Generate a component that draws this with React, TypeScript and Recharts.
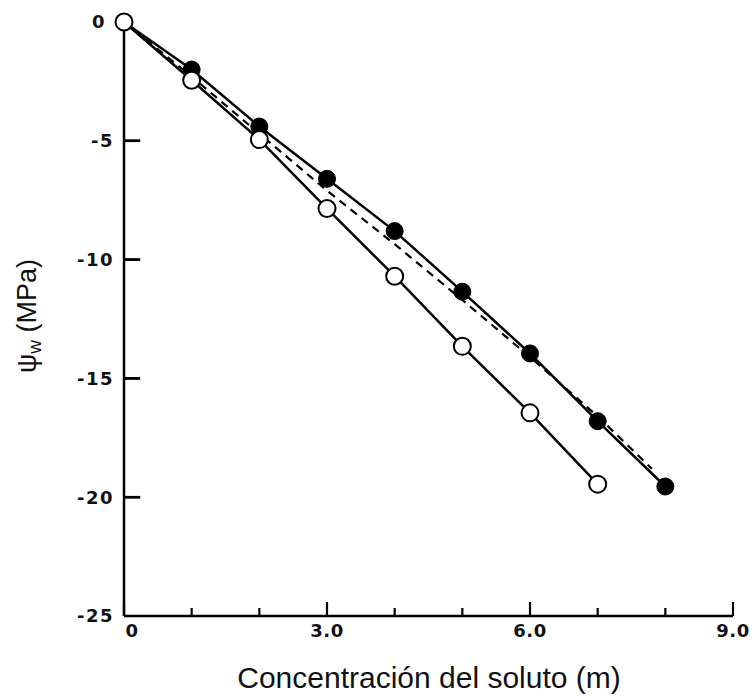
import { LineChart, Line, XAxis, YAxis, ReferenceLine } from "recharts";

// concentración (m) and ψw (MPa)
const concFilled = [0, 1, 2, 3, 4, 5, 6, 7, 8];
const psiFilled = [0, -2.0, -4.4, -6.6, -8.8, -11.35, -13.95, -16.8, -19.55];

const concOpen = [0, 1, 2, 3, 4, 5, 6, 7];
const psiOpen = [0, -2.45, -4.95, -7.85, -10.7, -13.65, -16.45, -19.45];

const concDashed = [0, 1, 2, 3, 4, 5, 6, 7, 7.8];
const psiDashed = [0, -2.3, -4.7, -7.1, -9.35, -11.7, -14.1, -16.6, -18.8];

const xTicks = [0, 1, 2, 3, 4, 5, 6, 7, 8, 9];
const xTickLabels: Record<number, string> = { 0: "0", 3: "3.0", 6: "6.0", 9: "9.0" };
const yTicks = [0, -5, -10, -15, -20, -25];
const yInnerTicks = [-5, -10, -15, -20];

const filledData = concFilled.map((x, i) => ({ x, y: psiFilled[i] }));
const openData = concOpen.map((x, i) => ({ x, y: psiOpen[i] }));
const dashedData = concDashed.map((x, i) => ({ x, y: psiDashed[i] }));

const FONT = "'Liberation Sans', Arial, sans-serif";
const TICK_FONT = "'DejaVu Sans', sans-serif";
const TICK_MARGIN = 10;

function XTick(props: any) {
  const { x, y, payload } = props;
  const v = payload.value as number;
  const label = xTickLabels[v];
  const axisY = y - TICK_MARGIN;
  const len = label ? 14 : 8;
  return (
    <g>
      <line x1={x} x2={x} y1={axisY} y2={axisY - len} stroke="#000" strokeWidth={2.2} />
      {label && (
        <text
          x={v === 0 ? x + 8 : x}
          y={y - 4}
          dy="0.85em"
          textAnchor="middle"
          fontFamily={TICK_FONT}
          fontWeight="bold"
          fontSize={18}
          letterSpacing={0.5}
          fill="#111"
        >
          {label}
        </text>
      )}
    </g>
  );
}

function YTick(props: any) {
  const { x, y, payload } = props;
  const v = payload.value as number;
  const axisX = x + TICK_MARGIN;
  const inner = v !== 0 && v !== -25;
  return (
    <g>
      {inner && (
        <line x1={axisX} x2={axisX + 16} y1={y} y2={y} stroke="#000" strokeWidth={2.5} />
      )}
      <text
        x={v === 0 ? x - 8 : x}
        y={y}
        dy="0.36em"
        textAnchor="end"
        fontFamily={TICK_FONT}
        fontWeight="bold"
        fontSize={18}
        letterSpacing={1.5}
        fill="#111"
      >
        {v}
      </text>
    </g>
  );
}

function OpenDot(props: any) {
  const { cx, cy } = props;
  return <circle cx={cx} cy={cy} r={8.5} fill="#fff" stroke="#000" strokeWidth={2} />;
}

function FilledDot(props: any) {
  const { cx, cy, index } = props;
  if (index === 0) return <g />;
  return <circle cx={cx} cy={cy} r={8.5} fill="#000" stroke="#000" strokeWidth={1} />;
}

// both axis titles, drawn from the x-axis label slot
function AxisTitles() {
  return (
    <g>
      <text
        x={429}
        y={688}
        textAnchor="middle"
        fontFamily={FONT}
        fontSize={30}
        fill="#111"
      >
        Concentración del soluto (m)
      </text>
      <text
        transform="translate(36, 316) rotate(-90)"
        textAnchor="middle"
        fontFamily={FONT}
        fontSize={27}
        fill="#111"
      >
        ψ
        <tspan fontSize={19} dy={5}>w</tspan>
        <tspan dy={-5}> (MPa)</tspan>
      </text>
    </g>
  );
}

export default function App() {
  return (
    <div style={{ position: "absolute", left: 0, top: 0, width: 754, height: 699, background: "#fff" }}>
      <LineChart
        width={754}
        height={699}
        margin={{ top: 22, right: 21, left: 0, bottom: 0 }}
      >
        <XAxis
          type="number"
          dataKey="x"
          domain={[0, 9]}
          ticks={xTicks}
          interval={0}
          height={83}
          tickSize={0}
          tickMargin={TICK_MARGIN}
          tick={XTick}
          axisLine={{ stroke: "#000", strokeWidth: 2.5 }}
          tickLine={false}
          label={<AxisTitles />}
        />
        <YAxis
          type="number"
          dataKey="y"
          domain={[-25, 0]}
          ticks={yTicks}
          interval={0}
          width={124}
          tickSize={0}
          tickMargin={TICK_MARGIN}
          tick={YTick}
          axisLine={{ stroke: "#000", strokeWidth: 2.5 }}
          tickLine={false}
        />
        {yInnerTicks.map((v) => (
          <ReferenceLine
            key={v}
            segment={[{ x: 0, y: v }, { x: 0.24, y: v }]}
            stroke="#000"
            strokeWidth={2.5}
            ifOverflow="visible"
          />
        ))}
        <Line
          data={dashedData}
          dataKey="y"
          type="linear"
          stroke="#000"
          strokeWidth={2.2}
          strokeDasharray="8 6"
          dot={false}
          isAnimationActive={false}
        />
        <Line
          data={filledData}
          dataKey="y"
          type="linear"
          stroke="#000"
          strokeWidth={2.5}
          dot={FilledDot}
          isAnimationActive={false}
        />
        <Line
          data={openData}
          dataKey="y"
          type="linear"
          stroke="#000"
          strokeWidth={2.5}
          dot={OpenDot}
          isAnimationActive={false}
        />
      </LineChart>
    </div>
  );
}
